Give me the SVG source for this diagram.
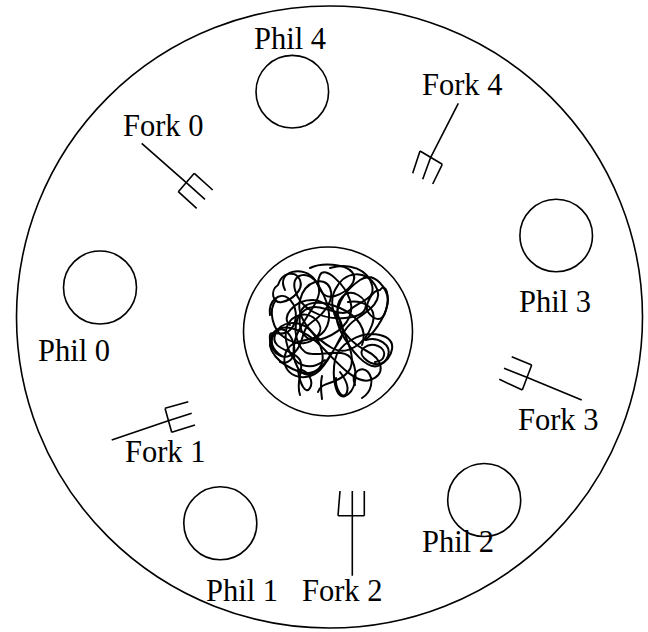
<svg xmlns="http://www.w3.org/2000/svg" width="648" height="632" viewBox="0 0 648 632">
  <style>
    .ln { fill: none; stroke: #000; stroke-width: 1.6; stroke-linecap: butt; }
    .seat { fill: none; stroke: #000; stroke-width: 1.6; }
    .noodle { fill: none; stroke: #000; stroke-width: 2; stroke-linejoin: round; stroke-linecap: round; }
    .lbl { font-family: "Liberation Serif", "Times New Roman", serif; font-size: 30.5px; fill: #000; }
  </style>
  <rect width="648" height="632" fill="#fff"/>

  <!-- table -->
  <g id="table">
    <ellipse cx="329.5" cy="317" rx="313" ry="311" class="ln"/>
  </g>

  <!-- plate of spaghetti -->
  <g id="plate">
    <circle cx="328" cy="331.5" r="84.5" class="ln"/>
    <path class="noodle" d="M 285 290 C 275 270 305 265 315 280 S 335 315 325 330 S 290 335 285 355 S 305 385 320 370 S 340 330 355 320 S 385 300 375 285 S 345 270 335 290 S 345 340 365 350 S 385 375 370 380 S 335 360 320 345 S 280 320 272 335 S 280 365 300 372 S 330 355 340 340 S 330 300 312 300 S 280 318 290 325"/>
    <path class="noodle" d="M 330 268 C 350 262 368 270 372 285 S 360 300 350 310 S 320 300 305 310 S 295 345 305 352 S 345 345 352 360 S 355 392 345 396 S 332 375 335 360 S 360 330 380 335 S 392 358 380 365 S 350 350 340 330 S 345 290 360 280 S 388 290 388 300 S 378 330 365 340"/>
    <path class="noodle" d="M 300 395 C 295 380 305 370 300 360 S 270 350 275 335 S 300 320 310 330 S 330 362 315 372 S 290 360 295 340 S 325 300 318 285 S 290 272 295 290 S 320 320 345 318 S 370 302 358 295 S 335 300 338 315 S 360 358 348 372 S 322 380 318 392"/>
    <path class="noodle" d="M 270 315 C 268 300 280 292 288 298 S 300 320 290 330 S 268 325 270 340 S 285 362 295 352 S 300 330 312 322 S 335 300 330 288 S 305 280 300 300 S 318 340 332 348 S 365 345 372 325 S 360 300 348 302"/>
    <path class="noodle" d="M 380 290 C 386 282 390 295 386 310 S 372 318 368 312 S 372 290 380 290"/>
    <path class="noodle" d="M 355 385 C 350 372 362 365 368 372 S 372 392 362 398"/>
    <path class="noodle" d="M 278 285 C 282 272 296 270 300 280 S 292 300 282 302 S 270 290 278 285 M 276 300 C 268 310 272 330 285 338 S 310 345 318 335 S 312 312 300 315 S 282 330 288 348 S 310 372 325 360"/>
    <path class="noodle" d="M 310 268 C 322 262 345 264 352 272 S 348 292 335 296 S 315 285 320 275 S 345 285 350 300 S 345 330 325 338 S 298 330 300 315 S 322 300 340 308 S 368 330 362 345"/>
    <path class="noodle" d="M 298 370 C 300 385 306 395 310 388 S 308 372 302 370 M 322 376 C 320 385 321 392 322 399 M 340 372 C 346 380 350 388 346 394 S 335 388 336 378"/>
    <path class="noodle" d="M 366 340 C 378 336 392 345 388 356 S 372 366 364 358 S 368 342 378 346 S 385 362 375 362"/>
    <path class="noodle" d="M 282 356 C 272 350 268 340 276 332 S 292 336 294 346 S 290 365 280 362"/>
  </g>

  <!-- philosophers -->
  <g id="phil-0">
    <circle cx="100" cy="287.5" r="36.5" class="seat"/>
    <text class="lbl" x="38" y="361">Phil 0</text>
  </g>
  <g id="phil-1">
    <circle cx="220.3" cy="523.3" r="36.5" class="seat"/>
    <text class="lbl" x="206" y="601">Phil 1</text>
  </g>
  <g id="phil-2">
    <circle cx="484.2" cy="500" r="36.5" class="seat"/>
    <text class="lbl" x="422" y="552">Phil 2</text>
  </g>
  <g id="phil-3">
    <circle cx="556.2" cy="235.5" r="36.3" class="seat"/>
    <text class="lbl" x="519" y="312">Phil 3</text>
  </g>
  <g id="phil-4">
    <circle cx="292.3" cy="91.7" r="36.3" class="seat"/>
    <text class="lbl" x="254" y="49">Phil 4</text>
  </g>

  <!-- forks: handle, cross-bar and three tines each -->
  <g id="fork-0">
    <path class="ln" d="M 141.7 143.3 L 186.3 182.7 M 194.3 173.3 L 178.3 191.7 M 194.3 173.3 L 212.7 190 M 186.3 182.7 L 205 199.3 M 178.3 191.7 L 196.7 208.3"/>
    <text class="lbl" x="123" y="136">Fork 0</text>
  </g>
  <g id="fork-1">
    <path class="ln" d="M 111.7 440 L 168.3 420.7 M 165 408.3 L 171.7 432.3 M 165 408.3 L 188.3 401.7 M 168.3 420.7 L 191.7 413.3 M 171.7 432.3 L 195 425"/>
    <text class="lbl" x="125" y="462">Fork 1</text>
  </g>
  <g id="fork-2">
    <path class="ln" d="M 352.3 491 L 352.3 575.7 M 338 515.7 L 364.3 515.7 M 340 491 L 338 515.7 M 364.3 491 L 364.3 515.7"/>
    <text class="lbl" x="302" y="601">Fork 2</text>
  </g>
  <g id="fork-3">
    <path class="ln" d="M 581.7 400 L 526.7 377.3 M 531.7 365 L 522.3 390 M 531.7 365 L 511.7 356.7 M 526.7 377.3 L 504 368.3 M 522.3 390 L 499.3 379.3"/>
    <text class="lbl" x="518" y="430">Fork 3</text>
  </g>
  <g id="fork-4">
    <path class="ln" d="M 458.3 103.3 L 430.7 157.3 M 420 151 L 442.3 164.3 M 420 151 L 412.7 173.3 M 430.7 157.3 L 422.7 179.3 M 442.3 164.3 L 432.7 184"/>
    <text class="lbl" x="422" y="95">Fork 4</text>
  </g>

  <!-- connectors: none drawn -->
  <g id="connectors"/>
</svg>
